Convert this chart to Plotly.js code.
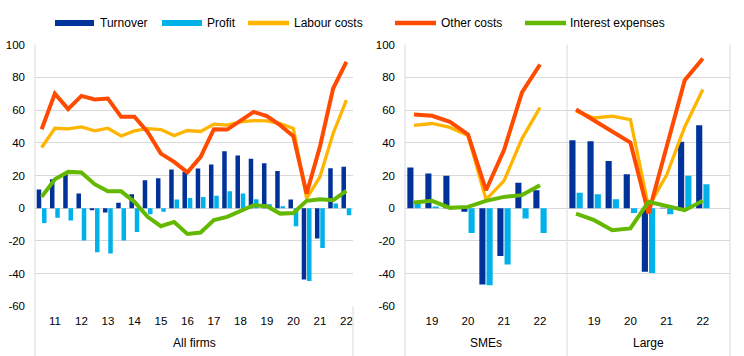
<!DOCTYPE html>
<html>
<head>
<meta charset="utf-8">
<script src="https://cdn.plot.ly/plotly-3.0.1.min.js"></script>
<style>html,body{margin:0;padding:0;background:#fff;}#chart{width:744px;height:356px;}</style>
</head>
<body>
<div id="chart"></div>
<script>
// ---------- DATA ----------
const allCats = ["11H1","11H2","12H1","12H2","13H1","13H2","14H1","14H2","15H1","15H2","16H1","16H2",
                 "17H1","17H2","18H1","18H2","19H1","19H2","20H1","20H2","21H1","21H2","22H1","22H2"];
const allTickVals = ["11H2","12H2","13H2","14H2","15H2","16H2","17H2","18H2","19H2","20H2","21H2","22H2"];
const allTickText = ["11","12","13","14","15","16","17","18","19","20","21","22"];

const allTurnover = [11.4, 17.7, 21.0, 9.0, -1.2, -2.6, 3.3, 8.6, 17.1, 18.3, 23.7, 22.2, 24.3, 26.7, 34.9, 32.2, 30.2, 27.5, 22.8, 5.3, -43.6, -18.5, 24.5, 25.3];
const allProfit   = [-9.0, -5.9, -7.5, -19.8, -26.9, -27.7, -19.8, -14.5, -3.7, -2.2, 5.3, 6.2, 6.8, 7.6, 10.3, 9.0, 5.4, 2.4, 1.2, -11.0, -44.5, -24.3, 2.9, -4.3];
const allLabour   = [37.1, 48.9, 48.5, 49.7, 47.3, 48.9, 44.2, 47.3, 48.7, 48.1, 44.4, 47.5, 46.9, 51.4, 50.8, 52.8, 53.6, 53.4, 51.8, 48.7, 6.0, 19.1, 45.7, 66.1];
const allOther    = [48.3, 70.1, 60.6, 68.7, 66.5, 67.1, 55.9, 55.9, 46.7, 33.4, 28.3, 21.9, 31.4, 48.3, 48.1, 53.4, 58.9, 56.3, 50.8, 44.0, 9.0, 37.5, 73.2, 89.5];
const allInterest = [6.9, 17.7, 22.2, 21.8, 14.7, 10.3, 10.3, 3.9, -5.3, -11.0, -8.4, -15.7, -14.9, -7.3, -5.3, -1.8, 1.8, 1.2, -3.3, -2.9, 4.5, 5.5, 4.9, 10.6];

const subCats = ["19H1","19H2","20H1","20H2","21H1","21H2","22H1","22H2"];
const subTickVals = ["19H2","20H2","21H2","22H2"];
const subTickText = ["19","20","21","22"];

const smeTurnover = [24.9, 21.2, 19.8, -2.2, -46.7, -29.2, 15.5, 11.0];
const smeProfit   = [3.0, 1.0, 0.5, -15.1, -47.1, -34.4, -6.3, -15.1];
const smeLabour   = [50.6, 51.8, 49.4, 44.4, 5.3, 16.7, 42.6, 61.6];
const smeOther    = [57.3, 56.5, 52.8, 45.1, 11.0, 35.5, 70.8, 87.9];
const smeInterest = [3.5, 4.5, 0.2, 0.8, 4.5, 6.9, 8.0, 14.1];

const lrgTurnover = [41.6, 41.0, 28.9, 20.8, -38.9, 0.3, 40.6, 50.8];
const lrgProfit   = [9.4, 8.6, 5.5, -2.9, -39.6, -3.7, 19.8, 14.7];
const lrgLabour   = [59.3, 55.2, 56.3, 54.2, 0.8, 20.2, 49.7, 72.6];
const lrgOther    = [60.4, 53.6, 47.2, 40.2, -3.3, 37.0, 78.3, 91.6];
const lrgInterest = [-3.3, -7.3, -13.5, -12.4, 3.9, 1.4, -1.2, 4.5];

const yTickVals = [-60, -40, -20, 0, 20, 40, 60, 80, 100];
const yTickText = ["-60", "-40", "-20", "0", "20", "40", "60", "80", "100"];

const panelLabels = ["All firms", "SMEs", "Large"];
const seriesNames = ["Turnover", "Profit", "Labour costs", "Other costs", "Interest expenses"];

// ---------- STYLE ----------
const C = {turn: "#003299", prof: "#00B1EA", lab: "#FFB400", oth: "#FF4B00", int: "#65B800"};
const W = 744, H = 356;
const px = v => v / W, py = v => 1 - v / H;
const FONT = "Liberation Sans, Arial, sans-serif";
const grid = "#d9d9d9";

function panelTraces(cats, turn, prof, lab, oth, intr, xa, ya) {
  return [
    {type: "bar", name: seriesNames[0], x: cats, y: turn, xaxis: xa, yaxis: ya, marker: {color: C.turn}, showlegend: false, hoverinfo: "skip"},
    {type: "bar", name: seriesNames[1], x: cats, y: prof, xaxis: xa, yaxis: ya, marker: {color: C.prof}, showlegend: false, hoverinfo: "skip"},
    {type: "scatter", mode: "lines", name: seriesNames[2], x: cats, y: lab, xaxis: xa, yaxis: ya, line: {color: C.lab, width: 3.3}, showlegend: false, hoverinfo: "skip"},
    {type: "scatter", mode: "lines", name: seriesNames[3], x: cats, y: oth, xaxis: xa, yaxis: ya, line: {color: C.oth, width: 4}, showlegend: false, hoverinfo: "skip"},
    {type: "scatter", mode: "lines", name: seriesNames[4], x: cats, y: intr, xaxis: xa, yaxis: ya, line: {color: C.int, width: 4}, showlegend: false, hoverinfo: "skip"}
  ];
}

const data = [].concat(
  panelTraces(allCats, allTurnover, allProfit, allLabour, allOther, allInterest, "x", "y"),
  panelTraces(subCats, smeTurnover, smeProfit, smeLabour, smeOther, smeInterest, "x2", "y2"),
  panelTraces(subCats, lrgTurnover, lrgProfit, lrgLabour, lrgOther, lrgInterest, "x3", "y3")
);

const yDom = [py(306.3), py(44.7)];
function xAxis(dom, cats, tv, tt, rng) {
  return {domain: dom, type: "category", categoryarray: cats, categoryorder: "array",
    range: rng, tickvals: tv, ticktext: tt, ticks: "", showgrid: false, zeroline: false, showline: false,
    tickfont: {family: FONT, size: 11.5, color: "#000"}, ticklabelstandoff: 6, automargin: false, fixedrange: true};
}
function yAxis(anchor, labels) {
  return {domain: yDom, anchor: anchor, range: [-60, 100], tickvals: yTickVals, ticktext: yTickText,
    showticklabels: labels, ticks: "", showgrid: true, gridcolor: grid, gridwidth: 1, zeroline: false, showline: false,
    tickfont: {family: FONT, size: 11.5, color: "#000"}, ticklabelstandoff: 9, automargin: false, fixedrange: true};
}

const L = [35, 353], M = [405, 567], R = [567, 730];

const shapes = [];
function vline(x, y0, y1) {
  shapes.push({type: "line", xref: "paper", yref: "paper", x0: px(x), x1: px(x), y0: py(y0), y1: py(y1), line: {color: grid, width: 1}});
}
vline(L[0], 44.7, 356); vline(L[1], 306.3, 356);
vline(M[0], 44.7, 356); vline(M[1], 44.7, 356); vline(R[1], 44.7, 356);

// legend swatches
const legendItems = [
  {name: seriesNames[0], color: C.turn, kind: "bar", x0: 55, x1: 94, tx: 98},
  {name: seriesNames[1], color: C.prof, kind: "bar", x0: 162, x1: 202, tx: 205.5},
  {name: seriesNames[2], color: C.lab, kind: "line", x0: 248, x1: 289, tx: 292},
  {name: seriesNames[3], color: C.oth, kind: "line", x0: 395, x1: 436, tx: 438.5},
  {name: seriesNames[4], color: C.int, kind: "line", x0: 525, x1: 566, tx: 568}
];
const LY = 23;
const annotations = [];
legendItems.forEach(it => {
  if (it.kind === "bar") {
    shapes.push({type: "rect", xref: "paper", yref: "paper", x0: px(it.x0), x1: px(it.x1), y0: py(LY + 3), y1: py(LY - 3),
      fillcolor: it.color, line: {width: 0}});
  } else {
    shapes.push({type: "line", xref: "paper", yref: "paper", x0: px(it.x0), x1: px(it.x1), y0: py(LY), y1: py(LY),
      line: {color: it.color, width: 4.5}});
  }
  annotations.push({xref: "paper", yref: "paper", x: px(it.tx), y: py(LY), xanchor: "left", yanchor: "middle",
    text: it.name, showarrow: false, font: {family: FONT, size: 12, color: "#000"}});
});

// panel labels
[[L, panelLabels[0]], [M, panelLabels[1]], [R, panelLabels[2]]].forEach(([p, t]) => {
  annotations.push({xref: "paper", yref: "paper", x: px((p[0] + p[1]) / 2), y: py(343), xanchor: "center", yanchor: "middle",
    text: t, showarrow: false, font: {family: FONT, size: 12, color: "#000"}});
});

const layout = {
  width: W, height: H, margin: {l: 0, r: 0, t: 0, b: 0},
  paper_bgcolor: "#fff", plot_bgcolor: "rgba(0,0,0,0)",
  showlegend: false, barmode: "group", bargap: 0.2, bargroupgap: 0.15,
  font: {family: FONT, size: 12, color: "#000"},
  xaxis: xAxis([px(L[0]), px(L[1])], allCats, allTickVals, allTickText, [-0.5, 23.5]),
  xaxis2: xAxis([px(M[0]), px(M[1])], subCats, subTickVals, subTickText, [-0.5, 8.5]),
  xaxis3: xAxis([px(R[0]), px(R[1])], subCats, subTickVals, subTickText, [-0.5, 8.5]),
  yaxis: yAxis("x", true),
  yaxis2: yAxis("x2", true),
  yaxis3: yAxis("x3", false),
  shapes: shapes,
  annotations: annotations
};
layout.xaxis2.anchor = "y2";
layout.xaxis3.anchor = "y3";
layout.xaxis.anchor = "y";

Plotly.newPlot("chart", data, layout, {staticPlot: true, displayModeBar: false});
</script>
</body>
</html>
